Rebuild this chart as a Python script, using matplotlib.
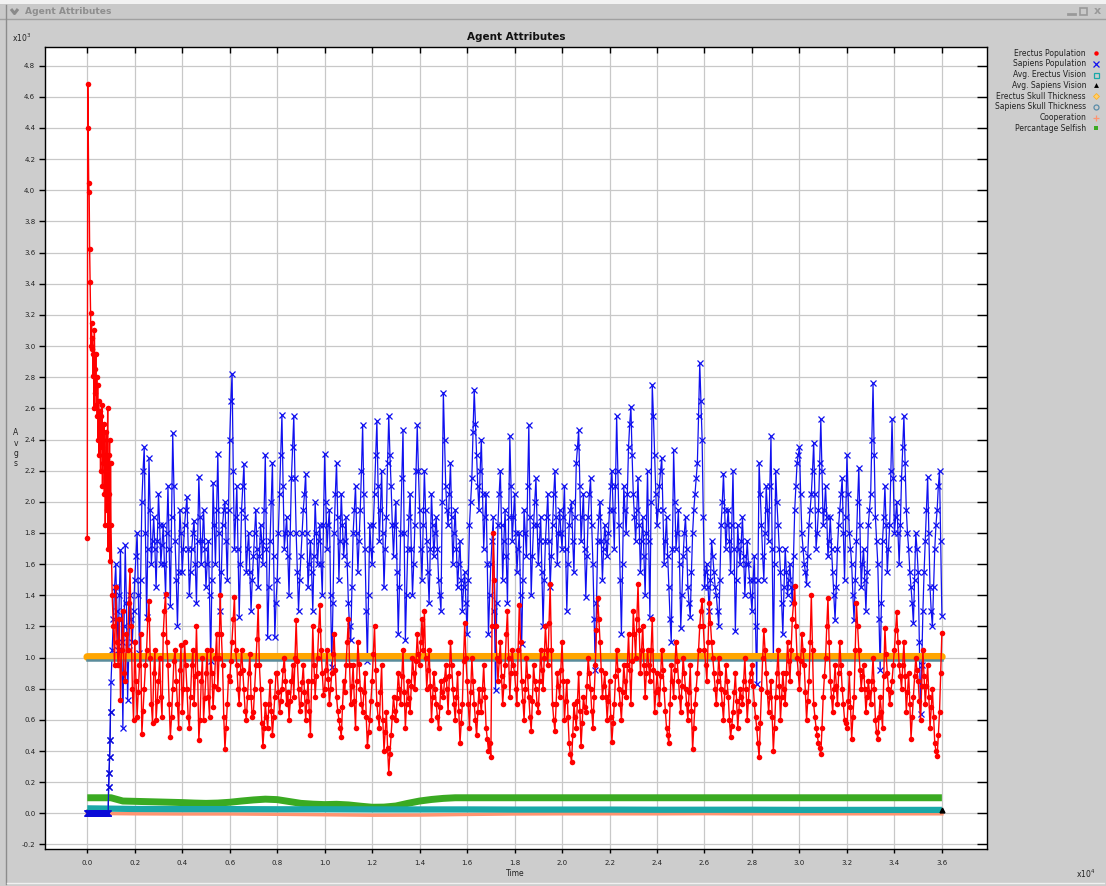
import numpy as np
import matplotlib
matplotlib.use("Agg")
import matplotlib.pyplot as plt
from matplotlib.lines import Line2D
from matplotlib.patches import Rectangle

# ---------------------------------------------------------------
# Data (time in units of 10^4 steps, values in units of 10^3)
# ---------------------------------------------------------------
# early phase, sampled every 0.002 from t = 0.000 to 0.098
erectus_early = [
    1.77, 4.68, 4.40, 4.05, 3.99, 3.62, 3.41, 3.21, 3.00, 3.15,
    2.98, 3.05, 2.81, 2.95, 2.60, 3.10, 2.85, 2.70, 2.95, 2.62,
    2.80, 2.55, 2.75, 2.40, 2.65, 2.30, 2.58, 2.45, 2.20, 2.55,
    2.35, 2.62, 2.10, 2.40, 2.25, 2.50, 2.05, 2.30, 1.85, 2.15,
    2.45, 1.95, 2.20, 2.60, 1.70, 2.30, 2.05, 2.40, 1.62, 2.25,
]
sapiens_early = [
    0.00, 0.00, 0.00, 0.00, 0.00, 0.00, 0.00, 0.00, 0.00, 0.00,
    0.00, 0.00, 0.00, 0.00, 0.00, 0.00, 0.00, 0.00, 0.00, 0.00,
    0.00, 0.00, 0.00, 0.00, 0.00, 0.00, 0.00, 0.00, 0.00, 0.00,
    0.00, 0.00, 0.00, 0.00, 0.00, 0.00, 0.00, 0.00, 0.00, 0.00,
    0.00, 0.00, 0.00, 0.00, 0.00, 0.17, 0.26, 0.36, 0.47, 0.65,
]

# main phase, sampled every 0.005 from t = 0.100 to 3.600 (one row = 0.1)
erectus_main = [
    1.85, 1.40, 1.20, 0.95, 1.45, 1.10, 0.95, 1.25, 0.73, 1.05, 1.30, 0.90, 0.85, 1.15, 1.05, 1.35, 1.56, 1.20, 0.80, 0.60,
    1.10, 0.85, 0.62, 0.78, 0.95, 1.15, 0.51, 0.66, 0.80, 0.95, 1.05, 1.25, 1.36, 1.00, 0.70, 0.58, 0.90, 1.05, 0.60, 0.72,
    0.85, 1.00, 0.75, 0.62, 1.15, 1.30, 1.41, 1.10, 0.95, 0.70, 0.49, 0.62, 0.80, 0.98, 1.05, 0.85, 0.70, 0.55, 0.92, 1.08,
    0.65, 0.80, 1.10, 0.95, 0.80, 0.62, 0.55, 0.75, 0.95, 1.05, 0.70, 0.88, 1.20, 0.90, 0.47, 0.60, 0.85, 1.00, 0.60, 0.74,
    0.90, 1.05, 0.75, 0.62, 1.05, 0.90, 0.68, 0.82, 1.00, 1.15, 0.80, 1.00, 1.40, 1.15, 0.95, 0.62, 0.41, 0.55, 0.70, 0.88,
    0.85, 0.98, 1.10, 1.25, 1.39, 1.05, 0.95, 0.80, 0.70, 0.90, 1.05, 0.92, 0.80, 0.66, 0.60, 0.75, 0.90, 1.02, 0.75, 0.62,
    0.65, 0.80, 0.95, 1.12, 1.33, 0.95, 0.80, 0.58, 0.43, 0.55, 0.70, 0.62, 0.55, 0.70, 0.85, 0.66, 0.50, 0.62, 0.75, 0.90,
    0.90, 0.78, 0.65, 0.72, 0.80, 0.92, 1.00, 0.85, 0.70, 0.78, 0.60, 0.72, 0.85, 0.95, 0.75, 1.00, 1.24, 0.98, 0.80, 0.66,
    0.70, 0.84, 0.95, 0.78, 0.60, 0.72, 0.85, 0.66, 0.50, 0.85, 1.20, 0.95, 0.75, 0.88, 1.00, 1.18, 1.34, 1.05, 0.90, 0.76,
    0.80, 0.92, 1.05, 0.86, 0.70, 0.80, 0.90, 1.02, 1.15, 0.92, 0.75, 0.66, 0.60, 0.55, 0.49, 0.68, 0.85, 0.78, 0.95, 1.10,
    1.25, 0.95, 0.70, 0.82, 0.95, 0.72, 0.55, 0.85, 1.10, 0.96, 0.80, 0.70, 0.65, 0.78, 0.90, 0.62, 0.43, 0.52, 0.60, 0.72,
    0.85, 1.02, 1.20, 0.92, 0.70, 0.62, 0.55, 0.78, 0.95, 0.60, 0.40, 0.52, 0.65, 0.42, 0.26, 0.38, 0.50, 0.62, 0.75, 0.66,
    0.60, 0.74, 0.90, 0.80, 0.70, 0.88, 1.05, 0.78, 0.55, 0.70, 0.85, 0.74, 0.65, 0.82, 1.00, 0.90, 0.80, 0.98, 1.15, 1.02,
    0.95, 1.10, 1.25, 1.05, 1.30, 1.00, 0.80, 0.92, 1.05, 0.82, 0.60, 0.75, 0.90, 0.80, 0.70, 0.62, 0.55, 0.68, 0.85, 0.78,
    0.75, 0.86, 0.95, 0.80, 0.65, 0.88, 1.10, 0.95, 0.80, 0.70, 0.60, 0.75, 0.90, 0.66, 0.45, 0.58, 0.70, 0.98, 1.22, 1.00,
    0.85, 0.70, 0.55, 0.78, 1.00, 0.85, 0.70, 0.60, 0.50, 0.65, 0.80, 0.72, 0.65, 0.80, 0.95, 0.75, 0.55, 0.48, 0.40, 0.45,
    0.36, 1.20, 1.80, 1.50, 1.20, 1.00, 0.85, 0.98, 1.10, 0.88, 0.70, 0.82, 0.95, 1.15, 1.30, 1.00, 0.75, 0.90, 1.05, 0.95,
    0.90, 0.80, 0.70, 1.05, 1.34, 1.10, 0.85, 0.72, 0.60, 0.80, 1.00, 0.88, 0.75, 0.62, 0.53, 0.72, 0.95, 0.85, 0.80, 0.70,
    0.65, 0.85, 1.05, 0.92, 0.80, 1.00, 1.20, 1.05, 0.95, 1.22, 1.47, 1.05, 0.70, 0.60, 0.53, 0.70, 0.90, 0.82, 0.75, 0.92,
    1.10, 0.85, 0.60, 0.72, 0.85, 0.62, 0.45, 0.38, 0.33, 0.50, 0.70, 0.62, 0.55, 0.72, 0.90, 0.66, 0.43, 0.58, 0.75, 0.68,
    0.65, 0.82, 1.00, 0.90, 0.80, 0.66, 0.55, 0.75, 0.95, 1.18, 1.38, 1.25, 1.10, 0.92, 0.75, 0.82, 0.90, 0.75, 0.60, 0.72,
    0.85, 0.62, 0.46, 0.58, 0.70, 0.88, 1.05, 0.92, 0.80, 0.70, 0.60, 0.78, 0.95, 0.85, 0.75, 0.95, 1.15, 0.92, 0.70, 0.98,
    1.30, 1.15, 1.00, 1.25, 1.47, 1.18, 0.90, 1.05, 1.20, 0.95, 0.75, 0.90, 1.05, 0.95, 0.85, 1.05, 1.25, 0.92, 0.65, 0.78,
    0.90, 0.80, 0.70, 0.88, 1.05, 0.92, 0.80, 0.66, 0.55, 0.50, 0.45, 0.70, 0.95, 0.85, 0.75, 0.92, 1.10, 0.98, 0.85, 0.75,
    0.65, 0.82, 1.00, 0.90, 0.80, 0.70, 0.60, 0.78, 0.95, 0.66, 0.41, 0.55, 0.70, 0.80, 0.90, 1.05, 1.20, 1.30, 1.37, 1.20,
    1.05, 0.95, 0.85, 1.10, 1.35, 1.22, 1.10, 1.00, 0.90, 0.80, 0.70, 0.85, 1.00, 0.90, 0.80, 0.70, 0.60, 0.78, 0.95, 0.85,
    0.75, 0.60, 0.49, 0.56, 0.65, 0.78, 0.90, 0.72, 0.55, 0.66, 0.80, 0.75, 0.70, 0.85, 1.00, 0.80, 0.60, 0.72, 0.85, 0.90,
    0.95, 0.82, 0.70, 0.62, 0.55, 0.45, 0.36, 0.58, 0.80, 1.00, 1.18, 1.05, 0.90, 0.78, 0.65, 0.75, 0.85, 0.62, 0.40, 0.55,
    0.75, 0.90, 1.05, 0.82, 0.60, 0.75, 0.90, 0.80, 0.70, 0.90, 1.10, 0.98, 0.85, 1.05, 1.25, 1.35, 1.46, 1.20, 1.00, 0.90,
    0.80, 0.98, 1.15, 1.05, 0.95, 0.78, 0.60, 0.72, 0.85, 1.10, 1.40, 1.05, 0.70, 0.62, 0.55, 0.50, 0.45, 0.42, 0.38, 0.55,
    0.75, 0.88, 1.00, 1.20, 1.38, 1.10, 0.85, 0.75, 0.65, 0.80, 0.95, 0.82, 0.70, 0.90, 1.10, 0.95, 0.80, 0.70, 0.60, 0.58,
    0.55, 0.72, 0.90, 0.68, 0.48, 0.62, 0.75, 1.05, 1.35, 1.20, 1.05, 0.92, 0.80, 0.88, 0.95, 0.80, 0.65, 0.75, 0.85, 0.78,
    0.70, 0.85, 1.00, 0.80, 0.60, 0.52, 0.48, 0.62, 0.75, 0.65, 0.55, 0.88, 1.19, 1.02, 0.90, 0.80, 0.70, 0.78, 0.85, 0.95,
    1.05, 1.18, 1.29, 1.10, 0.95, 0.88, 0.80, 0.95, 1.10, 0.88, 0.65, 0.78, 0.90, 0.70, 0.48, 0.62, 0.75, 0.88, 1.00, 0.92,
    0.85, 0.72, 0.60, 0.82, 1.05, 0.88, 0.70, 0.82, 0.95, 0.75, 0.55, 0.68, 0.80, 0.62, 0.45, 0.40, 0.37, 0.50, 0.65, 0.90,
    1.16,
]
sapiens_main = [
    0.84, 1.05, 1.25, 1.45, 1.60, 1.30, 1.05, 1.40, 1.69, 1.10, 0.55, 1.20, 1.72, 1.35, 0.73, 1.05, 1.40, 1.25, 1.10, 1.30,
    1.50, 1.65, 1.80, 1.40, 1.03, 1.50, 2.00, 2.20, 2.35, 1.80, 1.26, 1.70, 2.28, 1.95, 1.60, 1.75, 1.90, 1.70, 1.45, 1.75,
    2.05, 1.85, 1.60, 1.72, 1.85, 1.60, 1.40, 1.80, 2.10, 1.70, 1.33, 1.90, 2.44, 2.10, 1.75, 1.50, 1.20, 1.55, 1.95, 1.80,
    1.55, 1.70, 1.85, 1.95, 2.03, 1.70, 1.40, 1.55, 1.70, 1.80, 1.88, 1.60, 1.35, 1.75, 2.16, 1.90, 1.60, 1.75, 1.95, 1.70,
    1.45, 1.60, 1.75, 1.40, 0.98, 1.50, 2.12, 1.85, 1.60, 1.95, 2.31, 1.80, 1.30, 1.55, 1.85, 1.95, 2.00, 1.75, 1.50, 1.95,
    2.40, 2.65, 2.82, 2.20, 1.70, 1.90, 2.10, 1.70, 1.26, 1.60, 1.95, 2.10, 2.24, 1.90, 1.55, 1.70, 1.80, 1.55, 1.30, 1.50,
    1.65, 1.80, 1.95, 1.70, 1.45, 1.65, 1.85, 1.75, 1.60, 1.95, 2.30, 1.70, 1.13, 1.45, 1.75, 2.00, 2.25, 1.65, 1.13, 1.35,
    1.50, 1.80, 2.05, 2.30, 2.56, 2.10, 1.70, 1.80, 1.90, 1.65, 1.40, 1.80, 2.15, 2.35, 2.55, 2.15, 1.80, 1.55, 1.30, 1.50,
    1.65, 1.80, 1.95, 2.05, 2.18, 1.80, 1.45, 1.60, 1.75, 1.55, 1.30, 1.65, 2.00, 1.80, 1.60, 1.75, 1.85, 1.60, 1.40, 1.85,
    2.31, 2.00, 1.70, 1.85, 1.95, 1.40, 0.94, 1.35, 1.80, 2.05, 2.25, 1.90, 1.50, 1.75, 2.05, 1.85, 1.65, 1.75, 1.90, 1.60,
    1.35, 1.20, 1.11, 1.45, 1.80, 1.95, 2.10, 1.80, 1.55, 1.75, 1.95, 2.20, 2.49, 2.05, 1.70, 1.30, 0.98, 1.40, 1.85, 1.70,
    1.60, 1.85, 2.05, 2.30, 2.52, 2.10, 1.75, 1.95, 2.20, 1.80, 1.45, 1.70, 1.90, 2.25, 2.55, 2.30, 2.10, 1.85, 1.65, 1.85,
    2.00, 1.55, 1.15, 1.45, 1.80, 2.15, 2.46, 1.80, 1.11, 1.40, 1.70, 1.90, 2.05, 1.70, 1.40, 1.60, 1.85, 2.20, 2.49, 2.20,
    1.95, 1.70, 1.50, 1.85, 2.20, 1.95, 1.75, 1.55, 1.35, 1.70, 2.05, 1.85, 1.65, 1.80, 1.90, 1.70, 1.50, 1.40, 1.30, 2.00,
    2.70, 2.40, 2.10, 1.95, 1.85, 2.05, 2.25, 1.90, 1.60, 1.80, 1.95, 1.70, 1.45, 1.60, 1.75, 1.50, 1.30, 1.45, 1.55, 1.35,
    1.15, 1.50, 1.85, 2.00, 2.15, 2.45, 2.72, 2.50, 2.30, 2.10, 1.95, 2.20, 2.40, 2.05, 1.70, 1.90, 2.05, 1.60, 1.15, 1.40,
    1.60, 1.75, 1.90, 1.30, 0.79, 1.35, 1.85, 2.05, 2.20, 1.85, 1.50, 1.75, 1.95, 1.65, 1.35, 1.90, 2.42, 2.10, 1.75, 1.90,
    2.05, 1.80, 1.55, 1.70, 1.80, 1.40, 1.09, 1.50, 1.95, 1.80, 1.65, 2.10, 2.49, 1.90, 1.40, 1.65, 1.85, 2.00, 2.15, 1.85,
    1.60, 1.75, 1.90, 1.55, 1.20, 1.50, 1.75, 1.90, 2.05, 1.75, 1.45, 1.65, 1.85, 2.05, 2.20, 1.90, 1.60, 1.80, 1.95, 1.80,
    1.70, 1.90, 2.10, 1.70, 1.30, 1.60, 1.85, 1.95, 2.00, 1.75, 1.55, 1.90, 2.25, 2.35, 2.46, 2.10, 1.75, 1.90, 2.05, 1.70,
    1.39, 1.65, 1.90, 2.05, 2.15, 1.85, 1.60, 1.25, 0.92, 1.35, 1.75, 1.90, 2.00, 1.75, 1.50, 1.70, 1.85, 1.75, 1.65, 1.80,
    1.95, 2.10, 2.20, 1.95, 1.70, 2.10, 2.55, 2.20, 1.85, 1.50, 1.15, 1.60, 2.10, 1.95, 1.80, 2.05, 2.35, 2.50, 2.61, 2.30,
    2.05, 1.90, 1.75, 1.95, 2.15, 1.85, 1.55, 1.75, 1.90, 1.65, 1.40, 1.80, 2.20, 1.75, 1.26, 2.00, 2.75, 2.55, 2.30, 2.05,
    1.85, 1.95, 2.10, 2.20, 2.28, 1.95, 1.60, 1.75, 1.90, 1.65, 1.45, 1.25, 1.10, 1.70, 2.33, 2.00, 1.70, 1.80, 1.95, 1.60,
    1.19, 1.40, 1.65, 1.80, 1.90, 1.70, 1.45, 1.35, 1.26, 1.55, 1.80, 1.95, 2.05, 2.15, 2.25, 2.55, 2.89, 2.65, 2.40, 1.90,
    1.45, 1.55, 1.60, 1.45, 1.30, 1.50, 1.75, 1.65, 1.55, 1.45, 1.40, 1.30, 1.20, 1.50, 1.85, 2.00, 2.18, 1.95, 1.70, 1.85,
    1.95, 1.75, 1.55, 1.85, 2.20, 1.70, 1.17, 1.50, 1.85, 1.70, 1.60, 1.75, 1.90, 1.65, 1.40, 1.60, 1.75, 1.60, 1.50, 1.40,
    1.30, 1.50, 1.65, 1.20, 0.83, 1.50, 2.25, 2.05, 1.85, 1.65, 1.50, 1.80, 2.10, 1.95, 1.75, 2.10, 2.42, 1.70, 1.00, 1.60,
    2.20, 2.00, 1.85, 1.70, 1.55, 1.35, 1.15, 1.45, 1.70, 1.55, 1.40, 1.50, 1.60, 1.45, 1.35, 1.65, 1.95, 2.10, 2.25, 2.30,
    2.35, 2.05, 1.80, 1.70, 1.60, 1.55, 1.47, 1.65, 1.85, 1.95, 2.05, 2.20, 2.38, 2.05, 1.70, 1.80, 1.95, 2.25, 2.53, 2.20,
    1.85, 1.95, 2.10, 1.90, 1.65, 1.75, 1.90, 1.70, 1.55, 1.40, 1.24, 1.45, 1.70, 1.85, 1.95, 2.05, 2.15, 1.80, 1.50, 1.90,
    2.30, 2.05, 1.80, 1.70, 1.60, 1.40, 1.24, 1.50, 1.75, 2.00, 2.22, 1.85, 1.45, 1.60, 1.70, 1.50, 1.30, 1.55, 1.85, 1.95,
    2.05, 2.40, 2.76, 2.30, 1.90, 1.75, 1.60, 1.25, 0.92, 1.35, 1.75, 1.90, 2.10, 1.85, 1.55, 1.70, 1.85, 2.20, 2.53, 2.15,
    1.80, 1.90, 2.00, 1.80, 1.60, 1.85, 2.15, 2.35, 2.55, 2.25, 1.95, 1.80, 1.70, 1.55, 1.45, 1.35, 1.22, 1.50, 1.80, 1.70,
    1.55, 1.10, 0.64, 0.95, 1.30, 1.55, 1.75, 1.95, 2.16, 1.80, 1.45, 1.30, 1.20, 1.45, 1.70, 1.85, 1.95, 2.10, 2.20, 1.75,
    1.27,
]

# slowly varying averages, sampled every 0.2 from t = 0.0 to 3.6
erectus_vision = [0.032, 0.028, 0.027, 0.027, 0.026, 0.026, 0.025, 0.025, 0.025, 0.024,
                  0.024, 0.024, 0.023, 0.023, 0.023, 0.022, 0.022, 0.022, 0.022]
sapiens_vision = [0.020, 0.024, 0.024, 0.024, 0.024, 0.023, 0.023, 0.023, 0.023, 0.023,
                  0.023, 0.023, 0.023, 0.023, 0.023, 0.023, 0.023, 0.023, 0.023]
erectus_skull = [1.004, 1.005, 1.005, 1.005, 1.005, 1.005, 1.005, 1.005, 1.005, 1.005,
                 1.005, 1.005, 1.005, 1.005, 1.005, 1.005, 1.005, 1.005, 1.005]
sapiens_skull = [0.986, 0.986, 0.986, 0.986, 0.986, 0.986, 0.986, 0.986, 0.986, 0.986,
                 0.986, 0.986, 0.986, 0.986, 0.986, 0.986, 0.986, 0.986, 0.986]
cooperation = [0.000, -0.003, -0.004, -0.004, -0.006, -0.009, -0.012, -0.011, -0.007, -0.004,
               -0.003, -0.003, -0.003, -0.002, -0.003, -0.003, -0.003, -0.003, -0.003]

# share of selfish agents, sampled every 0.05 from t = 0.0 to 3.6
selfish = [
    0.100, 0.100, 0.100, 0.079, 0.077, 0.075, 0.073, 0.071, 0.069, 0.066,
    0.064, 0.066, 0.071, 0.079, 0.086, 0.091, 0.088, 0.076, 0.064, 0.059,
    0.056, 0.058, 0.054, 0.046, 0.039, 0.040, 0.047, 0.064, 0.079, 0.089,
    0.096, 0.100, 0.100, 0.100, 0.100, 0.100, 0.100, 0.100, 0.100, 0.100,
    0.100, 0.100, 0.100, 0.100, 0.100, 0.100, 0.100, 0.100, 0.100, 0.100,
    0.100, 0.100, 0.100, 0.100, 0.100, 0.100, 0.100, 0.100, 0.100, 0.100,
    0.100, 0.100, 0.100, 0.100, 0.100, 0.100, 0.100, 0.100, 0.100, 0.100,
    0.100, 0.100, 0.100,
]

series_names = ["Erectus Population", "Sapiens Population", "Avg. Erectus Vision",
                "Avg. Sapiens Vision", "Erectus Skull Thickness", "Sapiens Skull Thickness",
                "Cooperation", "Percantage Selfish"]
x_ticks = [0.0, 0.2, 0.4, 0.6, 0.8, 1.0, 1.2, 1.4, 1.6, 1.8, 2.0, 2.2, 2.4, 2.6, 2.8,
           3.0, 3.2, 3.4, 3.6]
y_ticks = [-0.2, 0.0, 0.2, 0.4, 0.6, 0.8, 1.0, 1.2, 1.4, 1.6, 1.8, 2.0, 2.2, 2.4, 2.6,
           2.8, 3.0, 3.2, 3.4, 3.6, 3.8, 4.0, 4.2, 4.4, 4.6, 4.8]

# sampling grids
t_early = np.arange(len(erectus_early)) * 0.002
t_main = 0.10 + np.arange(len(erectus_main)) * 0.005
t_avg = np.arange(len(erectus_vision)) * 0.2
t_self = np.arange(len(selfish)) * 0.05
t_pop = np.concatenate([t_early, t_main])
erectus_pop = np.concatenate([erectus_early, erectus_main])
sapiens_pop = np.concatenate([sapiens_early, sapiens_main])

# ---------------------------------------------------------------
# Figure / window frame
# ---------------------------------------------------------------
W, H = 1106, 886
plt.rcParams["font.family"] = ["DejaVu Sans"]
fig = plt.figure(figsize=(W / 100, H / 100), dpi=100, facecolor="#cdcdcd")


def fx(px):
    return px / W


def fy(py):
    return 1 - py / H


# title bar of the internal frame
fig.add_artist(Rectangle((0, fy(4)), 1, 4 / H, transform=fig.transFigure,
                         facecolor="#f2f2f2", edgecolor="none"))
fig.add_artist(Rectangle((0, fy(19)), 1, 15 / H, transform=fig.transFigure,
                         facecolor="#c9c9c9", edgecolor="none"))
fig.add_artist(Line2D([0, 1], [fy(19), fy(19)], transform=fig.transFigure,
                      color="#a0a0a0", lw=1))
fig.add_artist(Line2D([fx(6), fx(6)], [fy(5), fy(884)], transform=fig.transFigure,
                      color="#8c8c8c", lw=1))
fig.add_artist(Line2D([fx(7), fx(1104)], [fy(883), fy(883)], transform=fig.transFigure,
                      color="#f0f0f0", lw=1))
# collapse chevron
fig.add_artist(Line2D([fx(11), fx(14.5), fx(18)], [fy(9), fy(13.5), fy(9)],
                      transform=fig.transFigure, color="#8a8a8a", lw=2.2,
                      solid_capstyle="butt"))
fig.text(fx(25), fy(12), "Agent Attributes", fontsize=6.6, fontweight="bold",
         color="#8e8e8e", ha="left", va="center")
# window buttons
fig.add_artist(Line2D([fx(1068), fx(1075)], [fy(14), fy(14)], transform=fig.transFigure,
                      color="#999999", lw=2))
fig.add_artist(Rectangle((fx(1080), fy(15)), 7 / W, 7 / H, transform=fig.transFigure,
                         facecolor="none", edgecolor="#999999", lw=1.2))
fig.text(fx(1097), fy(11.5), "x", fontsize=8, fontweight="bold", color="#999999",
         ha="center", va="center")

# ---------------------------------------------------------------
# Axes
# ---------------------------------------------------------------
ax = fig.add_axes([fx(45), fy(849), (987 - 45) / W, (849 - 47) / H])
ax.set_facecolor("white")
ax.set_xlim(-0.178, 3.79)
ax.set_ylim(-0.229, 4.92)
ax.set_xticks(x_ticks)
ax.set_yticks(y_ticks)
ax.set_xticklabels([f"{v:.1f}" for v in x_ticks])
ax.set_yticklabels([f"{v:.1f}" for v in y_ticks])
ax.grid(True, color="#c8c8c8", lw=0.9)
ax.set_axisbelow(True)
for s in ax.spines.values():
    s.set_color("black")
    s.set_linewidth(1)
ax.tick_params(axis="both", labelsize=5, colors="black", width=1)
ax.tick_params(axis="y", left=True, right=True, direction="out", length=4, pad=3)
ax.tick_params(axis="x", bottom=True, top=True, direction="out", length=3, pad=5)
for tl in ax.yaxis.get_ticklines()[1::2]:
    tl.set_marker(0)      # right side: inward
    tl.set_markersize(7)
for tl in ax.xaxis.get_ticklines()[1::2]:
    tl.set_marker(3)      # top side: inward
    tl.set_markersize(4)
for lab in ax.get_xticklabels() + ax.get_yticklabels():
    lab.set_color("#222222")

# population series
ax.plot(t_pop, sapiens_pop, color="#1010f0", lw=0.9, marker="x", ms=4.4, mew=0.9,
        zorder=2)
ax.plot(t_avg, erectus_skull, color="#ffa500", lw=5.5, solid_capstyle="round", zorder=3)
ax.plot(t_avg, sapiens_skull, color="#5a8c9c", lw=1.8, zorder=3)
ax.plot(t_pop, erectus_pop, color="#ff0000", lw=1.0, marker="o", ms=4.0, mew=0,
        zorder=4)
# low-lying averages
ax.plot(t_self, selfish, color="#3aaa22", lw=5, solid_capstyle="butt", zorder=5)
ax.plot(t_avg, sapiens_vision, color="black", lw=1, zorder=5)
ax.plot(t_avg, cooperation, color="#ff9470", lw=2.5, zorder=5)
ax.plot(t_avg, erectus_vision, color="#1aa8a8", lw=4.5, solid_capstyle="butt", zorder=6)
ax.plot(t_avg[-1:], sapiens_vision[-1:], linestyle="none", marker="^", color="black",
        ms=3.5, zorder=7)
ax.plot(t_early, sapiens_early, color="#0a0ad8", lw=0.9, marker="x", ms=4.2, mew=0.9,
        zorder=7)

# axis annotations
fig.text(fx(516), fy(37), "Agent Attributes", fontsize=7.5, fontweight="bold",
         ha="center", va="center", color="#111111")
fig.text(fx(12), fy(38), r"x10$^{3}$", fontsize=5.5, ha="left", va="center",
         color="#222222")
fig.text(fx(1076), fy(874), r"x10$^{4}$", fontsize=5.5, ha="left", va="center",
         color="#222222")
fig.text(fx(515), fy(874), "Time", fontsize=5.5, ha="center", va="center",
         color="#222222")
for i, ch in enumerate("Avgs"):
    fig.text(fx(16), fy(433 + i * 10), ch, fontsize=5.5, ha="center", va="center",
             color="#222222")

# legend placed at the right of the plot
legend_styles = [
    dict(marker="o", color="#ff0000", mfc="#ff0000", ms=3.2, mew=0),
    dict(marker="x", color="#1010f0", mfc="none", ms=4, mew=0.9),
    dict(marker="s", color="#1aa8a8", mfc="none", ms=3.6, mew=0.9),
    dict(marker="^", color="black", mfc="black", ms=3.5, mew=0),
    dict(marker="D", color="#ffb020", mfc="#ffd070", ms=3, mew=0.6),
    dict(marker="o", color="#5a8ca8", mfc="none", ms=3.6, mew=0.9),
    dict(marker="+", color="#ff9470", mfc="none", ms=4, mew=0.9),
    dict(marker="s", color="#3aaa22", mfc="#3aaa22", ms=3.4, mew=0),
]
for i, (name, st) in enumerate(zip(series_names, legend_styles)):
    yy = fy(53.3 + i * 10.7)
    fig.text(fx(1086), yy, name, fontsize=5.5, ha="right", va="center", color="#222222")
    fig.add_artist(Line2D([fx(1096)], [yy], transform=fig.transFigure,
                          linestyle="none", **st))

fig.savefig("out.png", dpi=100, facecolor=fig.get_facecolor())
